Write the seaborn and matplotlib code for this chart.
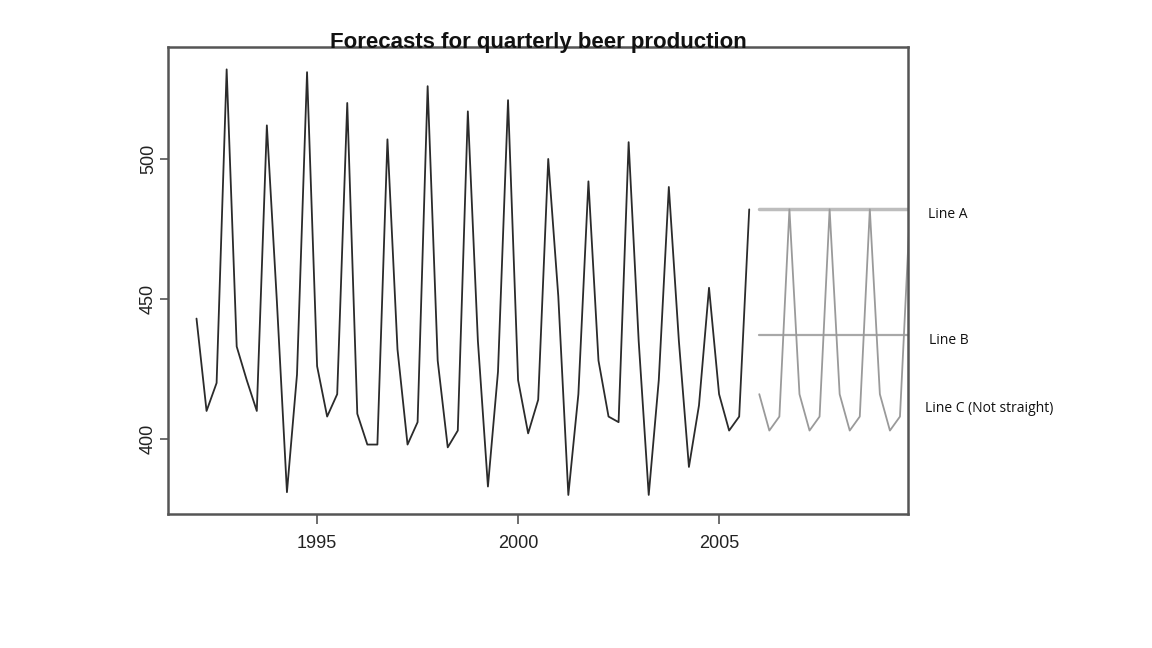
import pandas as pd
import seaborn as sns
import matplotlib.pyplot as plt
import numpy as np

# quarterly beer production, 1992 Q1 - 2005 Q4
years = list(range(1992, 2006))
beer = [443, 410, 420, 532,
        433, 421, 410, 512,
        449, 381, 423, 531,
        426, 408, 416, 520,
        409, 398, 398, 507,
        432, 398, 406, 526,
        428, 397, 403, 517,
        435, 383, 424, 521,
        421, 402, 414, 500,
        451, 380, 416, 492,
        428, 408, 406, 506,
        435, 380, 421, 490,
        435, 390, 412, 454,
        416, 403, 408, 482]

# forecast period 2006 Q1 - 2009 Q4
fc_years = list(range(2006, 2010))
line_a = 482          # naive
line_b = 437          # mean
line_c = [416, 403, 408, 482]   # seasonal naive, repeated each year

t = [y + q / 4 for y in years for q in range(4)]
df = pd.DataFrame({'time': t, 'beer': beer})

t_fc = [y + q / 4 for y in fc_years for q in range(4)]
fc = pd.DataFrame({'time': t_fc,
                   'A': [line_a] * len(t_fc),
                   'B': [line_b] * len(t_fc),
                   'C': line_c * len(fc_years)})

sns.set_style('white')
plt.rcParams['font.family'] = ['Liberation Sans', 'DejaVu Sans']

fig = plt.figure(figsize=(11.52, 6.48), dpi=100)
ax = fig.add_axes([0.1458, 0.2068, 0.6424, 0.7207])

sns.lineplot(data=df, x='time', y='beer', ax=ax, color='#2b2b2b', linewidth=1.3)
sns.lineplot(data=fc, x='time', y='A', ax=ax, color='#bdbdbd', linewidth=2.5)
sns.lineplot(data=fc, x='time', y='B', ax=ax, color='#a8a8a8', linewidth=1.6)
sns.lineplot(data=fc, x='time', y='C', ax=ax, color='#9a9a9a', linewidth=1.3)

ax.set_xlim(1991.29, 2009.70)
ax.set_ylim(373.2, 540)
ax.set_xticks([1995, 2000, 2005])
ax.set_yticks([400, 450, 500])
ax.set_xlabel('')
ax.set_ylabel('')
ax.tick_params(axis='both', direction='out', length=7, width=1.2, color='#555555',
               labelsize=13, colors='#222222', bottom=True, left=True)
ax.tick_params(axis='x', pad=8)
ax.tick_params(axis='y', length=6, pad=2)
for lab in ax.get_yticklabels():
    lab.set_rotation(90)
    lab.set_va('center')
for s in ax.spines.values():
    s.set_color('#555555')
    s.set_linewidth(1.8)

ax.set_title('Forecasts for quarterly beer production', fontsize=16, fontweight='bold',
             color='#111111', pad=-1)

# labels to the right of the plot
lab_font = dict(fontsize=10, family=['Open Sans', 'DejaVu Sans'], color='#111111',
                transform=ax.get_yaxis_transform(), va='center', ha='left')
ax.text(1.027, line_a - 2, 'Line A', **lab_font)
ax.text(1.029, line_b - 2, 'Line B', **lab_font)
ax.text(1.023, 410.7, 'Line C (Not straight)', **lab_font)

fig.savefig('out.png', dpi=100)
